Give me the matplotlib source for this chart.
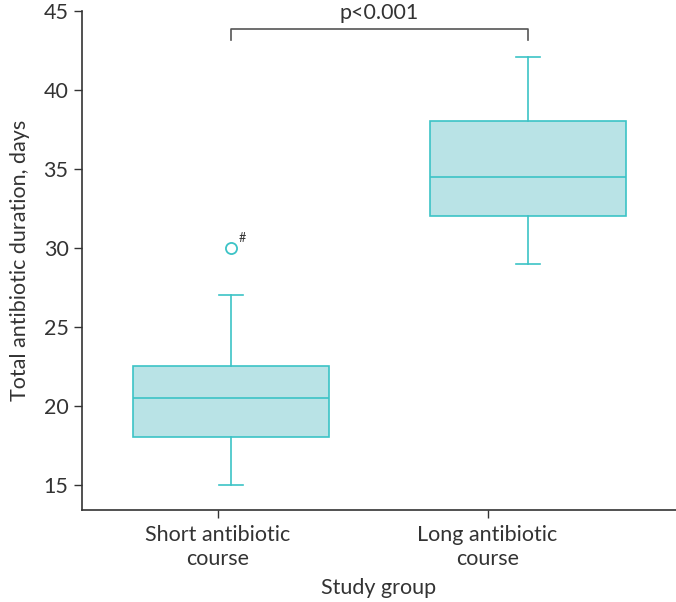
import matplotlib.pyplot as plt

plt.rcParams['font.family'] = ['Lato', 'DejaVu Sans']

groups = ["Short antibiotic\ncourse", "Long antibiotic\ncourse"]
whislo = [15, 29]
q1 = [18, 32]
med = [20.5, 34.5]
q3 = [22.5, 38]
whishi = [27, 42.1]
fliers = [[30], []]
p_text = "p<0.001"

edge = "#3cc3c6"
face = "#b9e3e6"
dark = "#333333"

stats = []
for i in range(len(groups)):
    stats.append({
        "whislo": whislo[i], "q1": q1[i], "med": med[i],
        "q3": q3[i], "whishi": whishi[i], "fliers": fliers[i],
    })

fig = plt.figure(figsize=(6.76, 6.02), dpi=100)
ax = fig.add_axes([0.121, 0.153, 0.879, 0.829])

positions = [1, 2]
ax.bxp(stats, positions=positions, widths=0.66, patch_artist=True,
       showfliers=True,
       boxprops=dict(facecolor=face, edgecolor=edge, linewidth=1.2),
       medianprops=dict(color=edge, linewidth=1.2),
       whiskerprops=dict(color=edge, linewidth=1.2),
       capprops=dict(color=edge, linewidth=1.2),
       capwidths=0.08,
       flierprops=dict(marker="o", markerfacecolor="none",
                       markeredgecolor=edge, markersize=8, markeredgewidth=1.3))

# outlier mark
ax.text(positions[0] + 0.025, fliers[0][0] + 0.25, "#", fontsize=9,
        color=dark, ha="left", va="bottom")

# significance bracket
y_br, y_tip = 43.85, 43.15
ax.plot([positions[0], positions[0], positions[1], positions[1]],
        [y_tip, y_br, y_br, y_tip], color="#555555", lw=1.2, clip_on=False)
ax.text(sum(positions) / 2, 44.25, p_text, ha="center", va="bottom",
        fontsize=15.5, color=dark, clip_on=False)

ax.set_xlim(0.497, 2.5)
ax.set_ylim(13.4, 45)
ax.set_yticks([15, 20, 25, 30, 35, 40, 45])
ax.set_xticks([0.955, 1.865])
ax.set_xticklabels(groups, linespacing=1.25)

for s in ["top", "right"]:
    ax.spines[s].set_visible(False)
for s in ["left", "bottom"]:
    ax.spines[s].set_color(dark)
    ax.spines[s].set_linewidth(1.2)

ax.tick_params(axis="both", labelsize=15.5, colors=dark, length=6, width=1)
ax.tick_params(axis="x", pad=5)
ax.set_ylabel("Total antibiotic duration, days", fontsize=15.5, color=dark, labelpad=10)
ax.set_xlabel("Study group", fontsize=15.5, color=dark, labelpad=6)

fig.savefig("out.png", dpi=100)
